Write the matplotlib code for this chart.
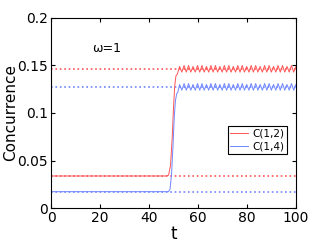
import numpy as np
import matplotlib
matplotlib.use("Agg")
import matplotlib.pyplot as plt

# concurrence vs time, omega = 1
# flat part + rise
t_rise = [0, 47.0, 48.0, 48.8, 49.5, 50.0, 50.5, 51.0, 51.6]
c12_rise = [0.0337, 0.0337, 0.0345, 0.045, 0.075, 0.105, 0.128, 0.139, 0.141]
t_rise_b = [0, 48.0, 48.6, 49.2, 49.8, 50.3, 50.8, 51.3, 51.8]
c14_rise = [0.0172, 0.0172, 0.020, 0.035, 0.065, 0.095, 0.113, 0.120, 0.122]

# oscillating part after t ~ 52
t_osc = np.linspace(52.5, 100, 53)
c12_osc = [0.149, 0.143, 0.150, 0.143, 0.150, 0.143, 0.149, 0.143, 0.150, 0.143,
           0.150, 0.143, 0.149, 0.143, 0.150, 0.143, 0.150, 0.143, 0.149, 0.143,
           0.150, 0.143, 0.150, 0.143, 0.149, 0.143, 0.150, 0.143, 0.150, 0.143,
           0.149, 0.143, 0.150, 0.143, 0.150, 0.143, 0.149, 0.143, 0.150, 0.143,
           0.150, 0.143, 0.149, 0.143, 0.150, 0.143, 0.150, 0.143, 0.149, 0.143,
           0.150, 0.143, 0.149]
c14_osc = [0.130, 0.124, 0.131, 0.124, 0.131, 0.124, 0.130, 0.124, 0.131, 0.124,
           0.131, 0.124, 0.130, 0.124, 0.131, 0.124, 0.131, 0.124, 0.130, 0.124,
           0.131, 0.124, 0.131, 0.124, 0.130, 0.124, 0.131, 0.124, 0.131, 0.124,
           0.130, 0.124, 0.131, 0.124, 0.131, 0.124, 0.130, 0.124, 0.131, 0.124,
           0.131, 0.124, 0.130, 0.124, 0.131, 0.124, 0.131, 0.124, 0.130, 0.124,
           0.131, 0.124, 0.130]

# dotted reference levels
c12_levels = [0.1463, 0.0337]
c14_levels = [0.1272, 0.0172]

red = "#ff5555"
blue = "#6f86ff"

fig = plt.figure(figsize=(3.27, 2.43), dpi=100)
ax = fig.add_axes([0.156, 0.144, 0.749, 0.782])

for lv in c12_levels:
    ax.plot([0, 100], [lv, lv], c=red, linestyle=":", linewidth=1.2)
for lv in c14_levels:
    ax.plot([0, 100], [lv, lv], c=blue, linestyle=":", linewidth=1.2)

ax.plot(np.concatenate([t_rise, t_osc]), np.concatenate([c12_rise, c12_osc]),
        c=red, linewidth=0.7, label="C(1,2)")
ax.plot(np.concatenate([t_rise_b, t_osc]), np.concatenate([c14_rise, c14_osc]),
        c=blue, linewidth=0.7, label="C(1,4)")

ax.text(16.7, 0.168, "\u03c9=1", fontsize=9, va="center")

ax.set_xlim([0, 100])
ax.set_ylim([0, 0.2])
ax.set_xticks([0, 20, 40, 60, 80, 100])
ax.set_yticks([0, 0.05, 0.1, 0.15, 0.2])
ax.set_yticklabels(["0", "0.05", "0.1", "0.15", "0.2"])
ax.tick_params(direction="in", top=True, right=True, labelsize=10, length=3, pad=2)
ax.set_xlabel("t", fontsize=12, labelpad=0)
ax.set_ylabel("Concurrence", fontsize=11)
ax.yaxis.set_label_coords(-0.135, 0.5)

leg = ax.legend(loc="upper left", bbox_to_anchor=(0.722, 0.43), fontsize=7.5,
                fancybox=False, edgecolor="black", framealpha=1, borderaxespad=0,
                handlelength=1.7, handletextpad=0.4, borderpad=0.25, labelspacing=0.25)
leg.get_frame().set_linewidth(0.8)

plt.savefig("out.png", dpi=100)
